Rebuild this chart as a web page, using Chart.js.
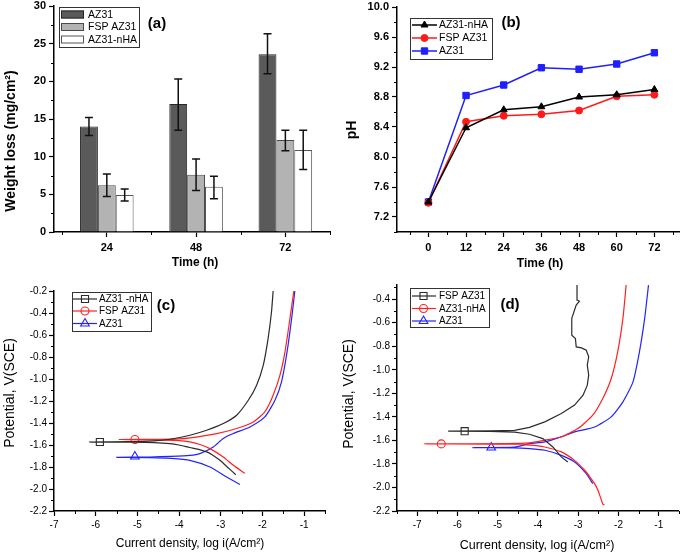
<!DOCTYPE html>
<html><head><meta charset="utf-8">
<script src="https://cdn.jsdelivr.net/npm/chart.js@4.4.1/dist/chart.umd.min.js"></script>
<style>
html,body{margin:0;padding:0;background:#fff;}
#wrap{position:relative;width:685px;height:555px;overflow:hidden;background:#fff;}
canvas{position:absolute;left:0;top:0;}
</style></head><body>
<div id="wrap">
<canvas id="ca" width="685" height="555"></canvas>
<canvas id="cb" width="685" height="555"></canvas>
<canvas id="cc" width="685" height="555"></canvas>
<canvas id="cd" width="685" height="555"></canvas>
</div>
<script>
// ---------- Panel (a): weight loss ----------
const timesA = [24, 48, 72];
const wlAZ31 = [14.0, 17.0, 23.6];
const wlAZ31Lo = [12.8, 13.5, 21.0];
const wlAZ31Hi = [15.2, 20.3, 26.3];
const wlFSP = [6.2, 7.6, 12.2];
const wlFSPLo = [4.7, 5.5, 10.8];
const wlFSPHi = [7.7, 9.7, 13.5];
const wlNHA = [4.9, 6.0, 10.9];
const wlNHALo = [4.1, 4.4, 8.3];
const wlNHAHi = [5.7, 7.4, 13.5];
const xTicksA = [24, 48, 72];
const xMinorA = [12, 36, 60, 84];
const yTicksA = [0, 5, 10, 15, 20, 25, 30];
const yMinorA = [2.5, 7.5, 12.5, 17.5, 22.5, 27.5];

// ---------- Panel (b): pH ----------
const timesB = [0, 12, 24, 36, 48, 60, 72];
const phNHA = [7.40, 8.39, 8.63, 8.67, 8.80, 8.83, 8.90];
const phFSP = [7.39, 8.47, 8.55, 8.57, 8.62, 8.81, 8.83];
const phAZ31 = [7.40, 8.82, 8.96, 9.19, 9.17, 9.24, 9.39];
const xTicksB = [0, 12, 24, 36, 48, 60, 72];
const xMinorB = [-6, 6, 18, 30, 42, 54, 66, 78];
const yTicksB = [7.2, 7.6, 8.0, 8.4, 8.8, 9.2, 9.6, 10.0];
const yMinorB = [7.0, 7.4, 7.8, 8.2, 8.6, 9.0, 9.4, 9.8];

// ---------- Panel (c): polarization ----------
const cNhaX = [-2.64,-2.80,-3.02,-3.20,-3.34,-3.55,-3.74,-4.00,-4.22,-4.60,-5.20,-6.15,-5.20,-4.60,-4.22,-3.74,-3.34,-2.94,-2.62,-2.34,-2.14,-1.98,-1.864,-1.783,-1.744];
const cNhaY = [-1.870,-1.815,-1.739,-1.690,-1.663,-1.638,-1.623,-1.600,-1.587,-1.578,-1.575,-1.573,-1.570,-1.563,-1.548,-1.511,-1.466,-1.405,-1.329,-1.193,-1.056,-0.874,-0.631,-0.389,-0.200];
const cFspX = [-2.42,-2.70,-2.94,-3.26,-3.50,-3.74,-4.00,-4.50,-5.44,-4.50,-4.00,-3.74,-3.10,-2.62,-2.22,-1.944,-1.744,-1.58,-1.46,-1.34,-1.247];
const cFspY = [-1.858,-1.785,-1.709,-1.633,-1.595,-1.572,-1.560,-1.553,-1.550,-1.548,-1.545,-1.536,-1.496,-1.450,-1.390,-1.299,-1.147,-0.965,-0.753,-0.449,-0.200];
const cAzX = [-2.54,-2.86,-3.26,-3.74,-4.20,-4.70,-5.50,-4.70,-4.20,-3.74,-3.50,-3.18,-2.94,-2.70,-2.30,-1.944,-1.70,-1.543,-1.41,-1.30,-1.224];
const cAzY = [-1.960,-1.891,-1.800,-1.739,-1.722,-1.715,-1.712,-1.709,-1.703,-1.694,-1.678,-1.618,-1.541,-1.496,-1.436,-1.345,-1.193,-1.026,-0.753,-0.449,-0.200];
const cMarkX = [-5.90, -5.06, -5.06];
const cMarkY = [-1.573, -1.550, -1.705];
const xTicksC = [-7, -6, -5, -4, -3, -2, -1];
const xMinorC = [-6.5, -5.5, -4.5, -3.5, -2.5, -1.5, -0.5];
const yTicksC = [-2.2, -2.0, -1.8, -1.6, -1.4, -1.2, -1.0, -0.8, -0.6, -0.4, -0.2];
const yMinorC = [-2.1, -1.9, -1.7, -1.5, -1.3, -1.1, -0.9, -0.7, -0.5, -0.3];

// ---------- Panel (d): polarization ----------
const dFspX = [-3.26,-3.42,-3.63,-3.88,-4.21,-4.58,-5.20,-6.23,-5.20,-4.58,-4.21,-3.83,-3.42,-3.09,-2.88,-2.775,-2.74,-2.775,-2.74,-2.80,-2.92,-3.05,-3.07,-3.16,-3.16,-3.05,-2.97,-3.02,-3.03];
const dFspY = [-1.783,-1.740,-1.656,-1.585,-1.548,-1.530,-1.524,-1.522,-1.520,-1.515,-1.490,-1.443,-1.372,-1.300,-1.216,-1.131,-1.046,-0.961,-0.890,-0.834,-0.814,-0.806,-0.734,-0.706,-0.564,-0.451,-0.417,-0.408,-0.281];
const dNhaX = [-2.35,-2.39,-2.51,-2.58,-2.68,-2.84,-3.09,-3.42,-3.83,-4.21,-4.80,-6.81,-4.80,-4.21,-3.83,-3.42,-3.01,-2.64,-2.39,-2.18,-2.02,-1.89,-1.81];
const dNhaY = [-2.150,-2.140,-2.024,-1.976,-1.925,-1.854,-1.770,-1.698,-1.656,-1.640,-1.633,-1.630,-1.628,-1.622,-1.599,-1.571,-1.500,-1.386,-1.244,-1.074,-0.848,-0.564,-0.280];
const dAzX = [-2.64,-2.80,-3.09,-3.42,-3.83,-4.21,-4.60,-5.63,-4.60,-4.21,-3.83,-3.50,-3.09,-2.59,-2.18,-1.89,-1.64,-1.48,-1.35,-1.255];
const dAzY = [-1.967,-1.882,-1.783,-1.727,-1.684,-1.670,-1.663,-1.661,-1.658,-1.627,-1.613,-1.579,-1.528,-1.486,-1.400,-1.273,-1.103,-0.848,-0.564,-0.281];
const dMarkX = [-5.82, -6.40, -5.16];
const dMarkY = [-1.522, -1.630, -1.661];
const xTicksD = [-7, -6, -5, -4, -3, -2, -1];
const xMinorD = [-7.5, -6.5, -5.5, -4.5, -3.5, -2.5, -1.5, -0.5];
const yTicksD = [-2.2, -2.0, -1.8, -1.6, -1.4, -1.2, -1.0, -0.8, -0.6, -0.4];
const yMinorD = [-2.1, -1.9, -1.7, -1.5, -1.3, -1.1, -0.9, -0.7, -0.5, -0.3];

// ---------- helpers ----------
const FF = "'Liberation Sans', Arial, Helvetica, sans-serif";
Chart.defaults.font.family = FF;
Chart.defaults.color = '#000';
const PW = 685, PH = 555;
const xy = (xs, ys) => xs.map((x, i) => ({x: x, y: ys[i]}));

function axisFit(size) {
  return s => {
    if (s.isHorizontal()) s.height = size; else s.width = size;
    s.paddingLeft = 0; s.paddingRight = 0; s.paddingTop = 0; s.paddingBottom = 0;
  };
}
function scaleCfg(o) {
  return {
    type: 'linear', min: o.min, max: o.max, offset: false, bounds: 'data',
    afterBuildTicks: s => { s.ticks = o.ticks.map(v => ({value: v})); },
    afterFit: axisFit(o.fit),
    grid: {display: true, drawOnChartArea: false, drawTicks: true, tickLength: 5, tickWidth: 1.2, tickColor: '#000', offset: false},
    border: {display: true, color: '#000', width: 1.5},
    ticks: {autoSkip: false, maxRotation: 0, minRotation: 0, padding: o.pad, color: '#000',
      font: {size: o.fs, weight: o.bold ? 'bold' : 'normal'}, callback: o.fmt}
  };
}
function layoutFor(area, wy, hx) {
  return {padding: {left: area.l - wy, top: area.t, right: PW - area.r, bottom: PH - area.b - hx}};
}
function markerPath(ctx, style, x, y, r) {
  ctx.beginPath();
  if (style === 'rect') { const s = r * Math.SQRT1_2; ctx.rect(x - s, y - s, 2 * s, 2 * s); }
  else if (style === 'triangle') {
    let a = 0; const t = 2 * Math.PI / 3;
    ctx.moveTo(x + Math.sin(a) * r, y - Math.cos(a) * r); a += t;
    ctx.lineTo(x + Math.sin(a) * r, y - Math.cos(a) * r); a += t;
    ctx.lineTo(x + Math.sin(a) * r, y - Math.cos(a) * r); ctx.closePath();
  } else { ctx.arc(x, y, r, 0, Math.PI * 2); }
}

const deco = {
  id: 'deco',
  afterDatasetsDraw(chart, args, opts) {
    const ctx = chart.ctx;
    if (opts.errorBars) {
      const ys = chart.scales.y;
      ctx.save();
      ctx.strokeStyle = '#111'; ctx.lineWidth = 1.5;
      chart.data.datasets.forEach((ds, i) => {
        if (!ds.errLo) return;
        chart.getDatasetMeta(i).data.forEach((el, j) => {
          const x = el.x, y1 = ys.getPixelForValue(ds.errLo[j]), y2 = ys.getPixelForValue(ds.errHi[j]);
          ctx.beginPath();
          ctx.moveTo(x, y1); ctx.lineTo(x, y2);
          ctx.moveTo(x - 4, y1); ctx.lineTo(x + 4, y1);
          ctx.moveTo(x - 4, y2); ctx.lineTo(x + 4, y2);
          ctx.stroke();
        });
      });
      ctx.restore();
    }
  },
  afterDraw(chart, args, opts) {
    const ctx = chart.ctx;
    ctx.save();
    const minor = opts.minor || {};
    Object.keys(minor).forEach(ax => {
      const sc = chart.scales[ax];
      ctx.strokeStyle = '#000'; ctx.lineWidth = 1;
      ctx.beginPath();
      minor[ax].forEach(v => {
        const p = Math.round(sc.getPixelForValue(v)) + 0.5;
        if (sc.isHorizontal()) { ctx.moveTo(p, sc.top); ctx.lineTo(p, sc.top + 3); }
        else { ctx.moveTo(sc.right, p); ctx.lineTo(sc.right - 3, p); }
      });
      ctx.stroke();
    });
    const L = opts.legend;
    if (L) {
      ctx.strokeStyle = '#333'; ctx.lineWidth = 1;
      ctx.strokeRect(L.box[0] + 0.5, L.box[1] + 0.5, L.box[2] - L.box[0], L.box[3] - L.box[1]);
      ctx.font = L.font; ctx.textBaseline = 'middle'; ctx.textAlign = 'left'; ctx.fillStyle = '#000';
      L.items.forEach((it, k) => {
        const y = L.rows[k];
        const ds = chart.data.datasets[it.ds];
        if (L.kind === 'bar') {
          ctx.fillStyle = ds.backgroundColor; ctx.strokeStyle = ds.borderColor; ctx.lineWidth = 1;
          ctx.fillRect(L.x1, y - L.h / 2, L.x2 - L.x1, L.h);
          ctx.strokeRect(L.x1 + 0.5, y - L.h / 2 + 0.5, L.x2 - L.x1 - 1, L.h - 1);
        } else {
          const mk = chart.data.datasets[it.mk];
          ctx.strokeStyle = ds.borderColor; ctx.lineWidth = ds.borderWidth;
          ctx.beginPath(); ctx.moveTo(L.x1, y); ctx.lineTo(L.x2, y); ctx.stroke();
          markerPath(ctx, mk.pointStyle, L.mx, y, mk.pointRadius);
          ctx.fillStyle = mk.pointBackgroundColor; ctx.fill();
          ctx.strokeStyle = mk.pointBorderColor; ctx.lineWidth = mk.pointBorderWidth; ctx.stroke();
        }
        ctx.fillStyle = '#000';
        ctx.fillText(ds.label, L.tx, y + 0.5);
      });
    }
    (opts.texts || []).forEach(t => {
      ctx.save();
      ctx.font = t.font; ctx.fillStyle = '#000'; ctx.textAlign = 'center'; ctx.textBaseline = 'middle';
      ctx.translate(t.x, t.y);
      if (t.rot) ctx.rotate(-Math.PI / 2);
      ctx.fillText(t.t, 0, 0);
      ctx.restore();
    });
    ctx.restore();
  }
};

const base = {responsive: false, animation: false, devicePixelRatio: 1, events: []};
const fmt1 = v => Number(v).toFixed(1);
const fmt0 = v => String(Math.round(v));

// ---------- Chart (a) ----------
const areaA = {l: 54, t: 6, r: 330, b: 232};
new Chart(document.getElementById('ca'), {
  type: 'bar',
  data: {datasets: [
    {label: 'AZ31', data: xy(timesA, wlAZ31), backgroundColor: '#5a5a5a', borderColor: '#262626', borderWidth: 1, errLo: wlAZ31Lo, errHi: wlAZ31Hi},
    {label: 'FSP AZ31', data: xy(timesA, wlFSP), backgroundColor: '#b3b3b3', borderColor: '#4a4a4a', borderWidth: 1, errLo: wlFSPLo, errHi: wlFSPHi},
    {label: 'AZ31-nHA', data: xy(timesA, wlNHA), backgroundColor: '#ffffff', borderColor: '#555555', borderWidth: 1, errLo: wlNHALo, errHi: wlNHAHi}
  ]},
  options: Object.assign({}, base, {
    layout: layoutFor(areaA, 50, 40),
    datasets: {bar: {categoryPercentage: 0.6, barPercentage: 1.0}},
    scales: {
      x: scaleCfg({min: 9.8, max: 84, ticks: xTicksA, fmt: fmt0, fs: 11, bold: true, pad: 4, fit: 40}),
      y: scaleCfg({min: 0, max: 30, ticks: yTicksA, fmt: fmt0, fs: 11, bold: true, pad: 3, fit: 50})
    },
    plugins: {
      legend: {display: false}, tooltip: {enabled: false},
      deco: {
        errorBars: true,
        minor: {x: xMinorA, y: yMinorA},
        legend: {kind: 'bar', box: [59, 7, 139, 47], rows: [14.5, 27, 39.5], x1: 61, x2: 84, h: 8, tx: 88, font: '10.5px ' + FF,
          items: [{ds: 0}, {ds: 1}, {ds: 2}]},
        texts: [
          {t: 'Time (h)', x: 195, y: 263, font: 'bold 12px ' + FF},
          {t: 'Weight loss (mg/cm²)', x: 11, y: 141, rot: true, font: 'bold 14px ' + FF},
          {t: '(a)', x: 157, y: 24, font: 'bold 15px ' + FF}
        ]
      }
    }
  }),
  plugins: [deco]
});

// ---------- Chart (b) ----------
const areaB = {l: 397, t: 7, r: 684, b: 232};
new Chart(document.getElementById('cb'), {
  type: 'line',
  data: {datasets: [
    {label: 'AZ31-nHA', data: xy(timesB, phNHA), borderColor: '#000000', backgroundColor: '#000000', borderWidth: 1.5,
      pointStyle: 'triangle', pointRadius: 4, pointBackgroundColor: '#000000', pointBorderColor: '#000000', pointBorderWidth: 1},
    {label: 'FSP AZ31', data: xy(timesB, phFSP), borderColor: '#ff1a1a', backgroundColor: '#ff1a1a', borderWidth: 1.5,
      pointStyle: 'circle', pointRadius: 3.5, pointBackgroundColor: '#ff1a1a', pointBorderColor: '#ff1a1a', pointBorderWidth: 1},
    {label: 'AZ31', data: xy(timesB, phAZ31), borderColor: '#1f1fff', backgroundColor: '#1f1fff', borderWidth: 1.5,
      pointStyle: 'rect', pointRadius: 4.5, pointBackgroundColor: '#1f1fff', pointBorderColor: '#1f1fff', pointBorderWidth: 1}
  ]},
  options: Object.assign({}, base, {
    layout: layoutFor(areaB, 50, 40),
    scales: {
      x: scaleCfg({min: -10, max: 80, ticks: xTicksB, fmt: fmt0, fs: 11, bold: true, pad: 4, fit: 40}),
      y: scaleCfg({min: 7.0, max: 10.0, ticks: yTicksB, fmt: fmt1, fs: 11, bold: true, pad: 3, fit: 50})
    },
    plugins: {
      legend: {display: false}, tooltip: {enabled: false},
      deco: {
        minor: {x: xMinorB, y: yMinorB},
        legend: {kind: 'line', box: [410, 18, 492, 59], rows: [25, 38, 51], x1: 412, x2: 437, mx: 424.5, tx: 439, font: '10.5px ' + FF,
          items: [{ds: 0, mk: 0}, {ds: 1, mk: 1}, {ds: 2, mk: 2}]},
        texts: [
          {t: 'Time (h)', x: 540, y: 264, font: 'bold 12px ' + FF},
          {t: 'pH', x: 352, y: 130, rot: true, font: 'bold 14px ' + FF},
          {t: '(b)', x: 511, y: 23, font: 'bold 15px ' + FF}
        ]
      }
    }
  }),
  plugins: [deco]
});

// ---------- Chart (c) ----------
function curveDs(label, xs, ys, color, tension) {
  return {label: label, data: xy(xs, ys), showLine: true, borderColor: color, backgroundColor: color,
    borderWidth: 1.2, pointRadius: 0, tension: tension};
}
function markDs(label, x, y, color, style, r) {
  return {label: label, data: [{x: x, y: y}], showLine: false, pointStyle: style, pointRadius: r,
    pointBackgroundColor: 'rgba(255,255,255,0)', pointBorderColor: color, pointBorderWidth: 1.1, borderColor: color};
}
const areaC = {l: 54, t: 291, r: 325, b: 511};
new Chart(document.getElementById('cc'), {
  type: 'scatter',
  data: {datasets: [
    curveDs('AZ31 -nHA', cNhaX, cNhaY, '#2b2b2b', 0.2),
    curveDs('FSP AZ31', cFspX, cFspY, '#ff2020', 0.2),
    curveDs('AZ31', cAzX, cAzY, '#2323ff', 0.2),
    markDs('m1', cMarkX[0], cMarkY[0], '#2b2b2b', 'rect', 5),
    markDs('m2', cMarkX[1], cMarkY[1], '#ff2020', 'circle', 4),
    markDs('m3', cMarkX[2], cMarkY[2], '#2323ff', 'triangle', 5)
  ]},
  options: Object.assign({}, base, {
    layout: layoutFor(areaC, 50, 40),
    scales: {
      x: scaleCfg({min: -7, max: -0.5, ticks: xTicksC, fmt: fmt0, fs: 10, bold: false, pad: 3, fit: 40}),
      y: scaleCfg({min: -2.2, max: -0.2, ticks: yTicksC, fmt: fmt1, fs: 10, bold: false, pad: 2, fit: 50})
    },
    plugins: {
      legend: {display: false}, tooltip: {enabled: false},
      deco: {
        minor: {x: xMinorC, y: yMinorC},
        legend: {kind: 'line', box: [72, 292, 151, 331], rows: [299, 311, 323.5], x1: 73, x2: 97, mx: 85, tx: 99, font: '10px ' + FF,
          items: [{ds: 0, mk: 3}, {ds: 1, mk: 4}, {ds: 2, mk: 5}]},
        texts: [
          {t: 'Current density, log i(A/cm²)', x: 190, y: 544, font: '12px ' + FF},
          {t: 'Potential, V(SCE)', x: 10, y: 393, rot: true, font: '14px ' + FF},
          {t: '(c)', x: 166, y: 306, font: 'bold 15px ' + FF}
        ]
      }
    }
  }),
  plugins: [deco]
});

// ---------- Chart (d) ----------
const areaD = {l: 397, t: 285, r: 679, b: 511};
new Chart(document.getElementById('cd'), {
  type: 'scatter',
  data: {datasets: [
    curveDs('FSP AZ31', dFspX, dFspY, '#2b2b2b', 0),
    curveDs('AZ31-nHA', dNhaX, dNhaY, '#ff2020', 0.2),
    curveDs('AZ31', dAzX, dAzY, '#2323ff', 0.2),
    markDs('m1', dMarkX[0], dMarkY[0], '#2b2b2b', 'rect', 5),
    markDs('m2', dMarkX[1], dMarkY[1], '#ff2020', 'circle', 4),
    markDs('m3', dMarkX[2], dMarkY[2], '#2323ff', 'triangle', 5)
  ]},
  options: Object.assign({}, base, {
    layout: layoutFor(areaD, 50, 40),
    scales: {
      x: scaleCfg({min: -7.5, max: -0.5, ticks: xTicksD, fmt: fmt0, fs: 10, bold: false, pad: 3, fit: 40}),
      y: scaleCfg({min: -2.2, max: -0.28, ticks: yTicksD, fmt: fmt1, fs: 10, bold: false, pad: 2, fit: 50})
    },
    plugins: {
      legend: {display: false}, tooltip: {enabled: false},
      deco: {
        minor: {x: xMinorD, y: yMinorD},
        legend: {kind: 'line', box: [410, 288, 489, 327], rows: [296, 308.5, 321], x1: 412, x2: 436, mx: 423.5, tx: 439, font: '10px ' + FF,
          items: [{ds: 0, mk: 3}, {ds: 1, mk: 4}, {ds: 2, mk: 5}]},
        texts: [
          {t: 'Current density, log i(A/cm²)', x: 537, y: 546, font: '12.5px ' + FF},
          {t: 'Potential, V(SCE)', x: 349, y: 394, rot: true, font: '14px ' + FF},
          {t: '(d)', x: 510, y: 305, font: 'bold 15px ' + FF}
        ]
      }
    }
  }),
  plugins: [deco]
});
</script>
</body></html>
